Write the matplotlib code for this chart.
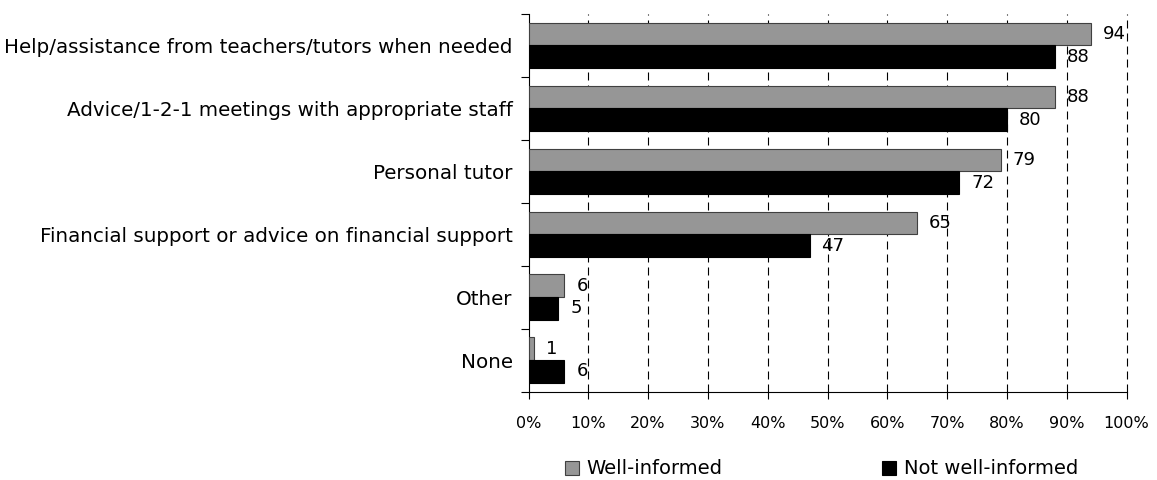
import numpy as np
import matplotlib.pyplot as plt

categories = [
    "Help/assistance from teachers/tutors when needed",
    "Advice/1-2-1 meetings with appropriate staff",
    "Personal tutor",
    "Financial support or advice on financial support",
    "Other",
    "None",
]
well_informed = [94, 88, 79, 65, 6, 1]
not_well_informed = [88, 80, 72, 47, 5, 6]
x_ticks = np.arange(0, 101, 10)

plt.rcParams['font.family'] = ['DejaVu Sans']
fig = plt.figure(figsize=(11.57, 4.8), dpi=100)
ax = fig.add_axes([528.5 / 1157, 1 - 391.5 / 480, (1126.5 - 528.5) / 1157, (391.5 - 14) / 480])

n = len(categories)
y = np.arange(n)
h = 0.36
ax.barh(y - h / 2, well_informed, height=h, color='#969696', edgecolor='#404040',
        linewidth=0.8, label='Well-informed', zorder=3)
ax.barh(y + h / 2, not_well_informed, height=h, color='black', edgecolor='black',
        linewidth=0.8, label='Not well-informed', zorder=3)

for yi, a, b in zip(y, well_informed, not_well_informed):
    ax.text(a + 2.0, yi - h / 2, str(a), va='center', ha='left', fontsize=13, zorder=4)
    ax.text(b + 2.0, yi + h / 2, str(b), va='center', ha='left', fontsize=13, zorder=4)

ax.set_xlim(0, 100)
ax.set_ylim(n - 0.5, -0.5)
ax.set_xticks(x_ticks)
ax.set_xticklabels([f"{v}%" for v in x_ticks], fontsize=11.5)
ax.tick_params(axis='x', length=5, width=0.8, pad=13)

# category labels centred, tick marks on the boundaries
ax.set_yticks(np.arange(-0.5, n, 1))
ax.set_yticklabels([])
ax.set_yticks(y, minor=True)
ax.set_yticklabels(categories, minor=True, fontsize=14.3)
ax.tick_params(axis='y', which='major', length=6, width=0.8, direction='out')
ax.tick_params(axis='y', which='minor', length=0, pad=11.5)

for xv in x_ticks[1:]:
    ax.axvline(xv, color='black', linestyle=(0, (7.2, 4.5)), linewidth=0.8,
               zorder=1, clip_on=False)

for s in ['top', 'right']:
    ax.spines[s].set_visible(False)
ax.spines['left'].set_linewidth(0.8)
ax.spines['bottom'].set_linewidth(0.8)

fig.legend(loc='center left', bbox_to_anchor=(565 / 1157, 1 - 469 / 480), ncol=2,
           frameon=False, fontsize=14, borderpad=0, borderaxespad=0,
           handlelength=0.72, handleheight=0.72, handletextpad=0.4,
           columnspacing=8.2)

fig.savefig('out.png', dpi=100)
